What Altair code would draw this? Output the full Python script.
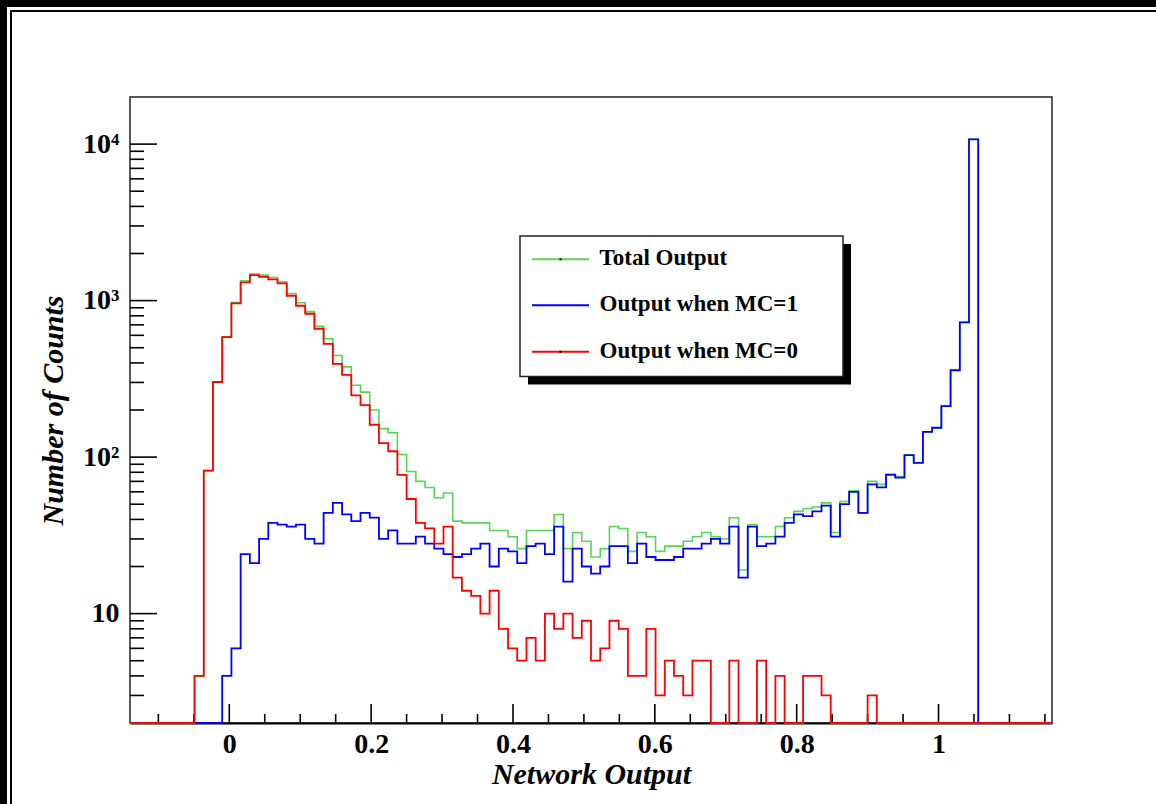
import altair as alt
import pandas as pd

# ---------------- data ----------------
X_MIN, X_MAX, N_BINS = -0.14, 1.16, 100

red_counts = [
    0, 0, 0, 0, 0, 0, 0, 4, 82, 302,
    584, 960, 1308, 1456, 1416, 1368, 1289, 1074, 927, 824,
    661, 529, 394, 335, 248, 215, 161, 123, 109, 77,
    54, 38, 35, 28, 36, 17, 14, 13, 10, 14,
    8, 6, 5, 7, 5, 10, 8, 10, 7, 9,
    5, 6, 9, 8, 4, 4, 8, 3, 5, 4,
    3, 5, 5, 0, 0, 5, 0, 0, 5, 0,
    4, 0, 0, 4, 4, 3, 0, 0, 0, 0,
    3, 0, 0, 0, 0, 0, 0, 0, 0, 0,
    0, 0, 0, 0, 0, 0, 0, 0, 0, 0,
]

blue_counts = [
    0, 0, 0, 0, 0, 0, 0, 0, 0, 0,
    4, 6, 24, 21, 30, 38, 37, 36, 37, 30,
    28, 44, 51, 43, 39, 44, 41, 30, 34, 28,
    28, 31, 28, 26, 24, 23, 24, 26, 28, 20,
    26, 25, 21, 27, 28, 24, 36, 16, 26, 20,
    18, 20, 27, 27, 21, 28, 23, 22, 22, 23,
    26, 26, 28, 30, 28, 36, 17, 36, 27, 28,
    31, 38, 43, 42, 45, 49, 31, 50, 60, 44,
    67, 64, 77, 74, 103, 92, 145, 154, 212, 359,
    727, 10733, 0, 0, 0, 0, 0, 0, 0, 0,
]

total_counts = [
    0, 0, 0, 0, 0, 0, 0, 4, 82, 302,
    588, 972, 1340, 1480, 1455, 1406, 1320, 1110, 970, 850,
    685, 571, 446, 377, 288, 260, 200, 152, 143, 104,
    81, 70, 64, 55, 59, 39, 38, 38, 38, 34,
    34, 31, 26, 34, 34, 34, 43, 26, 33, 29,
    23, 26, 36, 35, 25, 33, 31, 25, 27, 27,
    29, 31, 33, 31, 30, 41, 19, 37, 31, 31,
    36, 41, 45, 47, 48, 51, 33, 52, 61, 44,
    70, 67, 78, 75, 103, 92, 145, 154, 212, 359,
    727, 10733, 0, 0, 0, 0, 0, 0, 0, 0,
]

x_major_ticks = [0, 0.2, 0.4, 0.6, 0.8, 1.0]
x_minor_ticks = [-0.1, -0.05, 0.05, 0.1, 0.15, 0.25, 0.3, 0.35, 0.45, 0.5,
                 0.55, 0.65, 0.7, 0.75, 0.85, 0.9, 0.95, 1.05, 1.1, 1.15]
y_major_ticks = [10, 100, 1000, 10000]
y_tick_labels = ["10", "10\u00b2", "10\u00b3", "10\u2074"]
y_minor_ticks = [3, 4, 5, 6, 7, 8, 9,
                 20, 30, 40, 50, 60, 70, 80, 90,
                 200, 300, 400, 500, 600, 700, 800, 900,
                 2000, 3000, 4000, 5000, 6000, 7000, 8000, 9000]

series_names = ["Total Output", "Output when MC=1", "Output when MC=0"]
series_colors = ["#55d655", "#0000ff", "#ff0000"]

# ---------------- layout ----------------
CANVAS_W, CANVAS_H = 1156, 804
PAD_L, PAD_T = 130, 97
W, H = 922, 626
SERIF = "Liberation Serif"

bw = (X_MAX - X_MIN) / N_BINS


def hist_frame(counts):
    xs = [X_MIN + i * bw for i in range(N_BINS + 1)]
    ys = list(counts) + [counts[-1]]
    return pd.DataFrame({"x": xs, "count": ys})


xscale = alt.Scale(domain=[X_MIN, X_MAX], nice=False, zero=False)
yscale = alt.Scale(type="log", domain=[2, 20000], nice=False, clamp=True)

label_expr = ""
for v, lab in zip(y_major_ticks[:-1], y_tick_labels[:-1]):
    label_expr += f"datum.value == {v} ? '{lab}' : "
label_expr += f"'{y_tick_labels[-1]}'"

xaxis = alt.Axis(
    title="Network Output", values=x_major_ticks, format="~g",
    ticks=False, grid=False, domain=True, domainColor="black", domainWidth=2,
    labelFont=SERIF, labelFontWeight="bold", labelFontSize=28, labelColor="black",
    labelPadding=7, labelFlush=False, labelOverlap=False,
    titleFont=SERIF, titleFontStyle="italic", titleFontWeight="bold",
    titleFontSize=30, titleColor="black", titlePadding=1,
)
yaxis = alt.Axis(
    title="Number of Counts", values=y_major_ticks, labelExpr=label_expr,
    ticks=False, grid=False, domain=False,
    labelFont=SERIF, labelFontWeight="bold", labelFontSize=28, labelColor="black",
    labelPadding=11, labelOverlap=False, labelFlush=False,
    titleFont=SERIF, titleFontStyle="italic", titleFontWeight="bold",
    titleFontSize=30, titleColor="black", titlePadding=14,
)

one = pd.DataFrame({"a": [0]})


def canvas_rect(x1, y1, x2, y2, **kw):
    return alt.Chart(one).mark_rect(**kw).encode(
        x=alt.value(x1 - PAD_L), x2=alt.value(x2 - PAD_L),
        y=alt.value(y1 - PAD_T), y2=alt.value(y2 - PAD_T))


layers = []
# window frame decoration
layers.append(canvas_rect(0, 0, CANVAS_W, 7, color="black"))
layers.append(canvas_rect(0, 0, 7, CANVAS_H, color="black"))
layers.append(canvas_rect(10, 10, CANVAS_W, 12, color="black"))
layers.append(canvas_rect(10, 10, 12, CANVAS_H, color="black"))

# ticks drawn inside the frame
layers.append(alt.Chart(pd.DataFrame({"yc": y_major_ticks})).mark_rule(color="black", strokeWidth=1.6).encode(
    y=alt.Y("yc:Q", scale=yscale, axis=yaxis), x=alt.value(0), x2=alt.value(27)))
layers.append(alt.Chart(pd.DataFrame({"yc": y_minor_ticks})).mark_rule(color="black", strokeWidth=1.6).encode(
    y=alt.Y("yc:Q", scale=yscale, axis=yaxis), x=alt.value(0), x2=alt.value(14)))
layers.append(alt.Chart(pd.DataFrame({"x": x_major_ticks})).mark_rule(color="black", strokeWidth=1.6).encode(
    x=alt.X("x:Q", scale=xscale, axis=xaxis), y=alt.value(H), y2=alt.value(H - 19)))
layers.append(alt.Chart(pd.DataFrame({"x": x_minor_ticks})).mark_rule(color="black", strokeWidth=1.6).encode(
    x=alt.X("x:Q", scale=xscale, axis=xaxis), y=alt.value(H), y2=alt.value(H - 9)))

# histograms (green under, then blue, then red)
for counts, color, sw in [(total_counts, series_colors[0], 1.6),
                          (blue_counts, series_colors[1], 1.8),
                          (red_counts, series_colors[2], 1.8)]:
    layers.append(
        alt.Chart(hist_frame(counts))
        .transform_calculate(yc="max(datum.count, 1)")
        .mark_line(interpolate="step-after", color=color, strokeWidth=sw)
        .encode(x=alt.X("x:Q", scale=xscale, axis=xaxis),
                y=alt.Y("yc:Q", scale=yscale, axis=yaxis))
    )

# legend box with shadow
BX1, BY1, BX2, BY2 = 520, 236, 843, 376.5
SH = 8
layers.append(canvas_rect(BX1 + SH, BY1 + SH, BX2 + SH, BY2 + SH, color="black"))
layers.append(canvas_rect(BX1, BY1, BX2, BY2, fill="white", stroke="#222222", strokeWidth=1.5))
entry_y = [259.3, 305.3, 351.7]
dot_entries = [True, False, True]
for name, color, ey, dot in zip(series_names, series_colors, entry_y, dot_entries):
    layers.append(alt.Chart(one).mark_rule(color=color, strokeWidth=2).encode(
        x=alt.value(532 - PAD_L), x2=alt.value(589 - PAD_L), y=alt.value(ey - PAD_T)))
    if dot:
        layers.append(alt.Chart(one).mark_square(color="black", size=4, opacity=1).encode(
            x=alt.value(560.5 - PAD_L), y=alt.value(ey - PAD_T)))
    layers.append(alt.Chart(pd.DataFrame({"label": [name]})).mark_text(
        font=SERIF, fontWeight="bold", fontSize=23, color="black",
        align="left", baseline="alphabetic").encode(
        text="label:N", x=alt.value(599.5 - PAD_L), y=alt.value(ey + 6 - PAD_T)))

chart = alt.layer(*layers).properties(
    width=W, height=H,
    padding={"left": PAD_L, "top": PAD_T,
             "right": CANVAS_W - PAD_L - W, "bottom": CANVAS_H - PAD_T - H},
    autosize=alt.AutoSizeParams(type="none"),
    background="white",
).configure_view(stroke="#222222", strokeWidth=1.5)

chart.save("out.html", embed_options={"renderer": "svg", "actions": False})
